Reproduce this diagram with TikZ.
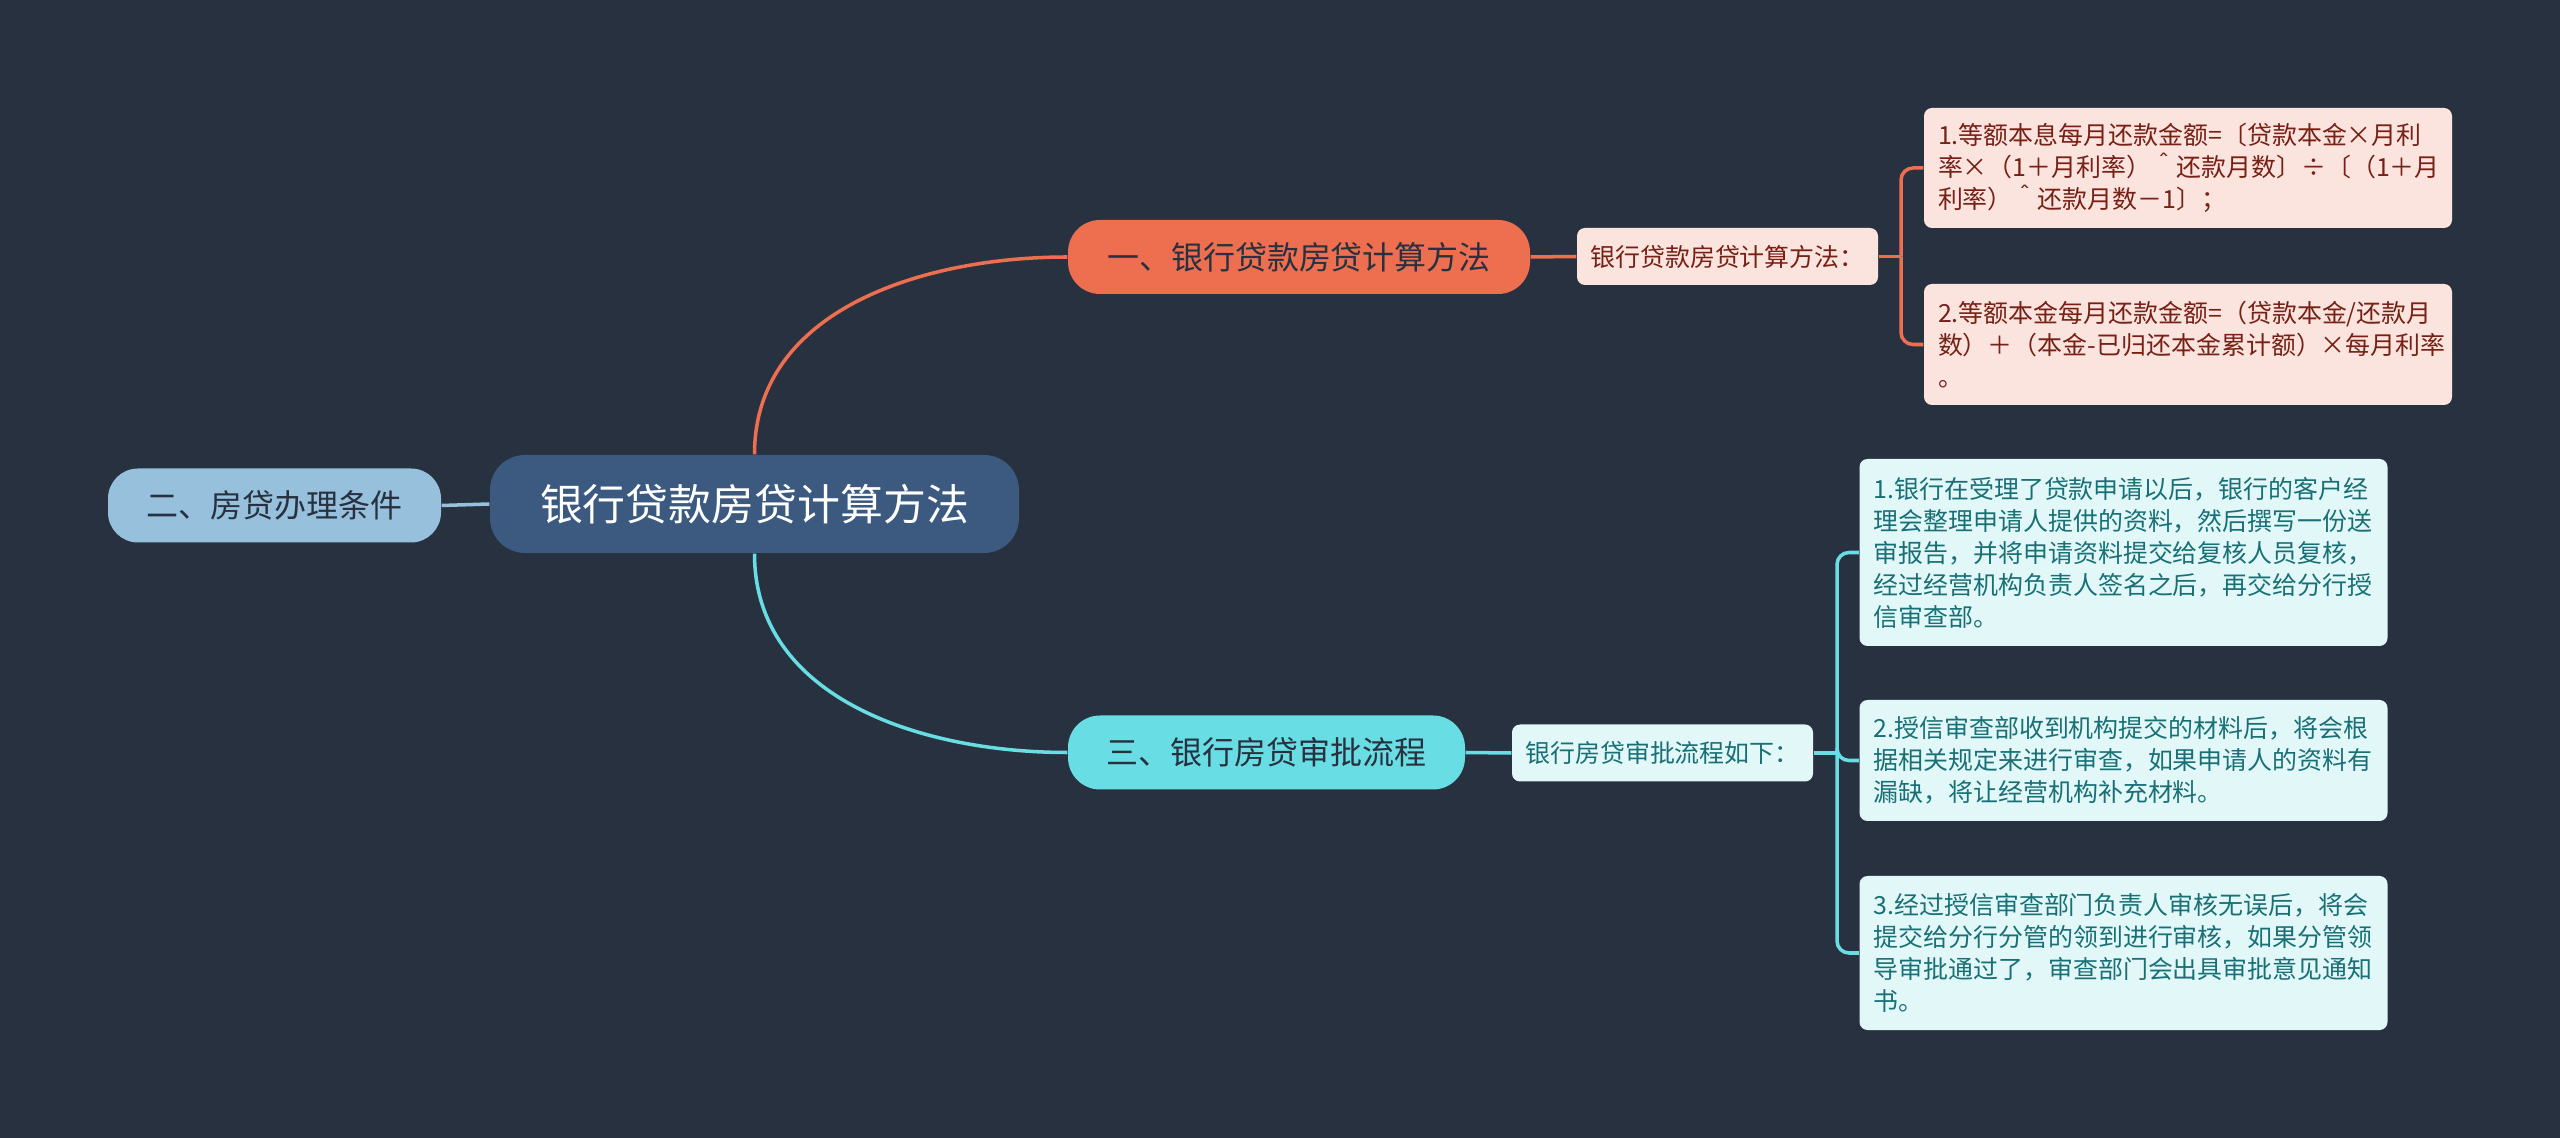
\documentclass[tikz,border=0pt]{standalone}
\usepackage{fontspec}
\setmainfont{Noto Sans CJK SC}
\usetikzlibrary{calc}
\definecolor{bgdark}{RGB}{40,49,64}
\definecolor{rootfill}{RGB}{60,90,128}
\definecolor{coral}{RGB}{238,110,80}
\definecolor{coralfill}{RGB}{252,228,222}
\definecolor{coralink}{RGB}{118,32,22}
\definecolor{aqua}{RGB}{104,222,228}
\definecolor{aquafill}{RGB}{226,248,248}
\definecolor{aquaink}{RGB}{24,112,118}
\definecolor{sky}{RGB}{150,192,220}
\definecolor{ink}{RGB}{40,49,64}

\begin{document}
\begin{tikzpicture}[
  rootbox/.style={
    fill=rootfill, rounded corners=0.35cm,
    minimum width=5.29cm, minimum height=0.98cm,
    font=\fontsize{12.2}{14}\selectfont, text=white
  },
  topicbox/.style={
    rounded corners=0.32cm, minimum height=0.74cm,
    font=\fontsize{9.1}{11}\selectfont, text=ink
  },
  notebox/.style={
    rounded corners=0.08cm, minimum width=3.01cm, minimum height=0.57cm,
    font=\fontsize{7.1}{8.6}\selectfont
  },
  leafbox/.style={
    rounded corners=0.08cm, minimum width=5.28cm,
    text width=5.0cm, inner xsep=0.14cm, align=left,
    font=\fontsize{7.1}{9.1}\selectfont
  },
  calcleaf/.style={leafbox, fill=coralfill, text=coralink},
  flowleaf/.style={leafbox, fill=aquafill, text=aquaink},
  coralflow/.style={line width=1pt, draw=coral},
  aquaflow/.style={line width=1pt, draw=aqua},
  skyflow/.style={line width=1pt, draw=sky}
]

% Canvas.
\fill[bgdark] (0,0) rectangle (25.6,-11.38);
\useasboundingbox (0,0) rectangle (25.6,-11.38);

% Centre and first-level topics.
\node[rootbox] (rootnode) at (7.545,-5.04) {银行贷款房贷计算方法};
\node[topicbox, fill=sky, minimum width=3.33cm, rounded corners=0.3cm]
  (cond) at (2.745,-5.055) {二、房贷办理条件};
\node[topicbox, fill=coral, minimum width=4.62cm]
  (calc) at (12.99,-2.57) {一、银行贷款房贷计算方法};
\node[topicbox, fill=aqua, minimum width=3.97cm]
  (flow) at (12.665,-7.525) {三、银行房贷审批流程};

% Second-level notes.
\node[notebox, fill=coralfill, text=coralink]
  (calcsub) at (17.275,-2.565) {银行贷款房贷计算方法：};
\node[notebox, fill=aquafill, text=aquaink]
  (flowsub) at (16.625,-7.53) {银行房贷审批流程如下：};

% Calculation formulas.
\node[calcleaf, minimum height=1.20cm] (calcone) at (21.88,-1.68)
  {1.等额本息每月还款金额=〔贷款本金×月利\\率×（1＋月利率）＾还款月数〕÷〔（1＋月\\利率）＾还款月数－1〕；};
\node[calcleaf, minimum height=1.21cm] (calctwo) at (21.88,-3.445)
  {2.等额本金每月还款金额=（贷款本金/还款月\\数）＋（本金\mbox{-}已归还本金累计额）×每月利率\\。};

% Approval steps.
\node[flowleaf, minimum height=1.87cm] (stepone) at (21.235,-5.525)
  {1.银行在受理了贷款申请以后，银行的客户经\\理会整理申请人提供的资料，然后撰写一份送\\审报告，并将申请资料提交给复核人员复核，\\经过经营机构负责人签名之后，再交给分行授\\信审查部。};
\node[flowleaf, minimum height=1.21cm] (steptwo) at (21.235,-7.605)
  {2.授信审查部收到机构提交的材料后，将会根\\据相关规定来进行审查，如果申请人的资料有\\漏缺，将让经营机构补充材料。};
\node[flowleaf, minimum height=1.54cm] (stepthree) at (21.235,-9.53)
  {3.经过授信审查部门负责人审核无误后，将会\\提交给分行分管的领到进行审核，如果分管领\\导审批通过了，审查部门会出具审批意见通知\\书。};

% Branches out of the centre.
\draw[skyflow] (rootnode.west) -- (cond.east);
\draw[coralflow] (rootnode.north) to[out=90,in=180] (calc.west);
\draw[aquaflow] (rootnode.south) to[out=-90,in=180] (flow.west);
\draw[coralflow] (calc.east) -- (calcsub.west);
\draw[aquaflow] (flow.east) -- (flowsub.west);

% Brackets to the leaves.
\coordinate (calcfork) at (19.01,-2.565);
\draw[coralflow] (calcsub.east) -- (calcfork);
\draw[coralflow, rounded corners=0.12cm] (calcfork) |- (calcone.west);
\draw[coralflow, rounded corners=0.12cm] (calcfork) |- (calctwo.west);

\coordinate (flowfork) at (18.37,-7.53);
\draw[aquaflow] (flowsub.east) -- (flowfork);
\draw[aquaflow, rounded corners=0.12cm] (flowfork) |- (stepone.west);
\draw[aquaflow, rounded corners=0.12cm] (flowfork) |- (steptwo.west);
\draw[aquaflow, rounded corners=0.12cm] (flowfork) |- (stepthree.west);

\end{tikzpicture}
\end{document}
